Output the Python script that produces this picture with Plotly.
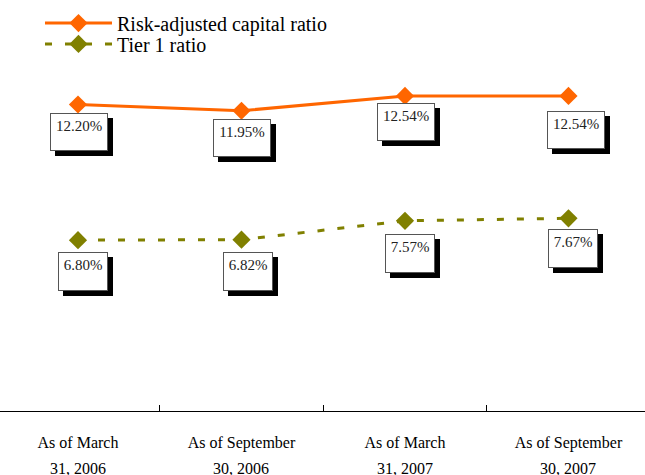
import plotly.graph_objects as go

categories = ["As of March<br>31, 2006", "As of September<br>30, 2006",
              "As of March<br>31, 2007", "As of September<br>30, 2007"]
risk_adjusted = [12.20, 11.95, 12.54, 12.54]
tier1 = [6.80, 6.82, 7.57, 7.67]
series_names = ["Risk-adjusted capital ratio", "Tier 1 ratio"]

ORANGE = "#FF6600"
OLIVE = "#808000"
FONT = "Liberation Serif, Times New Roman, serif"

# label box placement (pixel offsets of the box relative to the point)
risk_off = [(1, 9), (1, 8), (1, 7), (8, 15)]
tier_off = [(5, 12), (7, 12), (5, 13), (5, 11)]

line1 = [c.split("<br>")[0] for c in categories]
line2 = [c.split("<br>")[1] for c in categories]

fig = go.Figure()
fig.add_trace(go.Scatter(
    x=categories, y=risk_adjusted, name=series_names[0], mode="lines+markers",
    line=dict(color=ORANGE, width=3),
    marker=dict(symbol="diamond", size=14, color=ORANGE),
    legend="legend",
))
fig.add_trace(go.Scatter(
    x=categories, y=tier1, name=series_names[1], mode="lines+markers",
    line=dict(color=OLIVE, width=3, dash="7px,13px"),
    marker=dict(symbol="diamond", size=14, color=OLIVE),
    legend="legend2",
))

annotations = []
PAD = 4
def add_labels(vals, offs, w, h):
    for c, v, (dx, dy) in zip(categories, vals, offs):
        common = dict(x=c, y=v, xref="x", yref="y", xanchor="center", yanchor="top",
                      showarrow=False, width=w - 2 - 2 * PAD, height=h - 2 - 2 * PAD,
                      borderpad=PAD, valign="top")
        annotations.append(dict(common, text=" ", bgcolor="black", borderwidth=1,
                                bordercolor="black", xshift=dx + 5, yshift=-dy - 5))
        annotations.append(dict(common, text=f"{v:.2f}%", bgcolor="white", borderwidth=1,
                                bordercolor="#555555", xshift=dx, yshift=-dy,
                                font=dict(family=FONT, size=15, color="#222222")))

add_labels(risk_adjusted, risk_off, 58, 38)
add_labels(tier1, tier_off, 50, 39)

# second line of the category labels
for c, t in zip(categories, line2):
    annotations.append(dict(x=c, y=0, xref="x", yref="paper", xanchor="center",
                            yanchor="top", yshift=-47, showarrow=False, text=t,
                            font=dict(family=FONT, size=16, color="black")))

leg_common = dict(x=0.062, xanchor="left", yanchor="middle",
                  font=dict(family=FONT, size=20, color="black"),
                  bgcolor="rgba(0,0,0,0)", itemwidth=67, tracegroupgap=0)

fig.update_layout(
    width=645, height=475,
    margin=dict(l=0, r=0, t=9, b=64),
    paper_bgcolor="white", plot_bgcolor="white",
    font=dict(family=FONT, color="black"),
    showlegend=True,
    legend=dict(leg_common, y=0.965),
    legend2=dict(leg_common, y=0.913),
    annotations=annotations,
    xaxis=dict(
        type="category", range=[-0.477, 3.468], tickmode="array",
        tickvals=categories, ticktext=line1,
        tickson="boundaries", ticks="inside", ticklen=6, tickcolor="black",
        showline=True, linecolor="black", linewidth=1, showgrid=False, zeroline=False,
        tickfont=dict(family=FONT, size=16, color="black"), ticklabelstandoff=17,
    ),
    yaxis=dict(range=[0, 16], visible=False, showgrid=False, zeroline=False),
)

fig.write_html("out.html")
